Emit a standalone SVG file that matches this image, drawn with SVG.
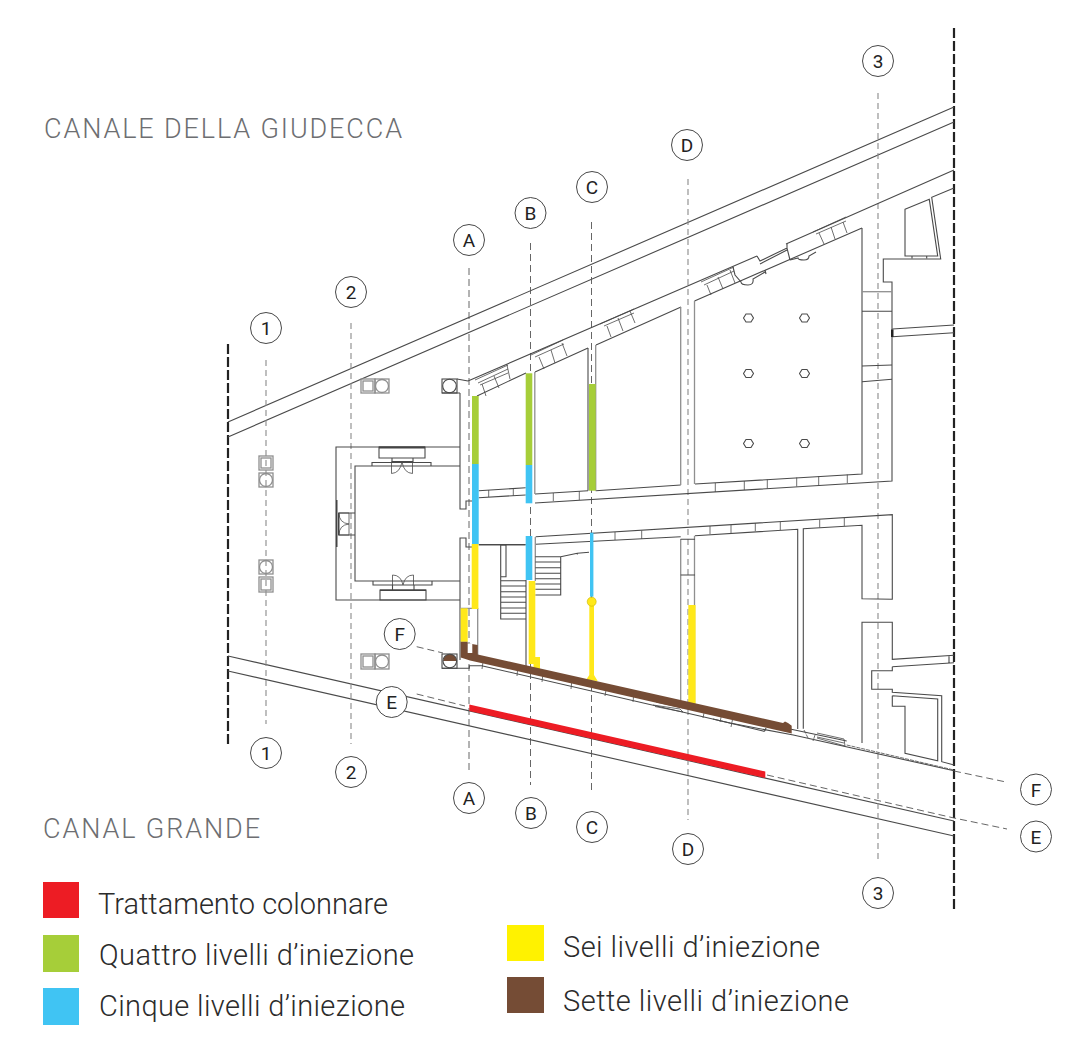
<svg xmlns="http://www.w3.org/2000/svg" width="1075" height="1058" viewBox="0 0 1075 1058">
<style>
.w{fill:none;stroke:#4a4a4a;stroke-width:1.1}
.g{fill:none;stroke:#8f8f8f;stroke-width:1.3}
.t{fill:none;stroke:#4a4a4a;stroke-width:.8}
.b{fill:none;stroke:#222;stroke-width:2.2;stroke-dasharray:10 3}
.sg{fill:none;stroke:#8a8a8a;stroke-width:1.1;stroke-dasharray:6 4}
.sd{fill:none;stroke:#555;stroke-width:.9;stroke-dasharray:7 4}
.lab circle{fill:#fff;stroke:#333;stroke-width:.9}
.lab text{font-family:"Roboto","Liberation Sans",sans-serif;font-weight:400;font-size:19px;fill:#222;text-anchor:middle}
.h{font-family:"Roboto","Liberation Sans",sans-serif;font-weight:300;font-size:27px;fill:#6d6e71}
.l{font-family:"Roboto","Liberation Sans",sans-serif;font-weight:300;font-size:29px;fill:#2b2b2b}
.red{fill:#ed1c24}.grn{fill:#a6ce39}.blu{fill:#40c4f3}.yel{fill:#ffe81a}.brn{fill:#754c35}
</style>
<rect width="1075" height="1058" fill="#fff"/>

<g id="site-limits">
<path class="b" d="M228 344V744M954 28V910"/>
<path class="w" d="M228 422L954 107M228 437L954 122M228 656L954 821M228 671L954 836"/>
</g>

<g id="connectors">
<path class="sg" d="M266 360V724M351 323V744M688 179V820M878 93V863"/>
<path class="sd" d="M469 268V770M530.500 243V785M591.500 222V790"/>
<path class="sd" d="M416.700 646.700L443 653M954 771L1006 782M416.700 694L465 706M767 775L954 818L1007 829"/>
</g>

<g id="plan-walls">
<!-- north facade -->
<path class="w" d="M468 381L757 256M786 244L954 170M477 396L526 373M535 372L588 348M596 345L681 307M694.5 301L862 228"/>
<path class="t" d="M475 380L508 365M478 383L508 369M480 385L508 373M482 384L486 396M494 376L499 388M507 365L510 379"/>
<path class="t" d="M531 355L563 340M535 357L564 344M539 357L544 369M551 350L555 363M562 343L567 356"/>
<path class="t" d="M600 324L634 309M604 326L634 313M607 326L611 337M618 318L623 331M630 311L635 323"/>
<path class="t" d="M701 282L734 267M704 285L734 271M707 285L711 295M718 277L723 289M730 270L735 283"/>
<path class="w" d="M757 256L760 261L787 248L790 260M760 264L787 250M765 270L766 274M733 267L735 275L741 282Q741 285 748 285Q754 285 753 279L765 272M787 248V244L787 244"/>
<path class="t" d="M813 232L846 217M816 234L846 221M819 233L824 244M831 227L835 239M843 222L847 233"/>
<path class="w" d="M790 260L798 258Q798 260 804 260Q809 260 809 256L816 252"/>
<!-- west wall -->
<path class="w" d="M460 393V509H466V501H472M460 660V538H466V547H472"/>
<path class="g" d="M477.7 608V655M460.7 608.3H477.7"/>
<!-- rooms row north -->
<path class="w" d="M478.7 490.7L525.7 487.7M535 494L588 490.7M595.7 490.7L680.7 485M695 484L862 474V228"/>
<path class="g" d="M694.5 301V484M680.7 307V485M534.8 372V494M595.7 345V490.7"/>
<path class="w" d="M588 348V490.7"/>
<path class="w" d="M478.7 497.7L525.7 495M535 503L892 481V282H883.3V259H940.7L931.7 197.3L954 188"/>
<path class="t" d="M488.7 490V497M513.3 488.5V496M553.3 493V501M579.3 491V500M715.3 483V492M744.3 481V490M767.3 479.5V488.5M796.7 477.5V486.5M818.7 476V485M847.3 474.5V483"/>
<path class="g" d="M862 291.7H892"/>
<path class="w" d="M862 311.3H892M862 366L892 365M862 381.7L892 379.3"/>
<path class="w" d="M905 209.3L929.3 199.3L937.7 256H905ZM892.3 329L954 325M892.3 336.7L954 332.7M912 256V258.500M926.700 256V258.500"/>
<path d="M891 329.500h2.500v7.500h-2.500z" fill="#222"/>
<!-- rooms row south -->
<path class="w" d="M535.700 536.700L892.300 514.700V599.300L862 598.700V525.300L803.300 528.700V728.700M535.700 544.300L680.700 536.700M695 535.700L797.700 529.300V729"/>
<path class="g" d="M680.700 539V704M694.500 535.700V705"/>
<path class="w" d="M680.700 539.300H695M680.700 575H695"/>
<path class="t" d="M615 532V540M641.700 530.500V539M710 526V534M731 525V533M755.300 523V531M780.300 522V530M819.700 519.500V527.500M844.300 518V526"/>
<path class="w" d="M862 743V622.300H892.300V659.300L954 655.300M892.300 666.700L954 662.700M892.300 666.700V670.700H871.700V689.300H892.300V692.300L941.700 695.700V761.700L954 765M892.300 695.700L937.700 699V760.700L905 753.300V706.300H892.300V695.700M949 656V663"/>
<path class="w" d="M526 580V668"/>
<path class="g" d="M535.300 537V581M478.700 545H525.700"/>
<path class="w" d="M478.700 544.500H525.700"/>
<!-- stairs -->
<path class="w" d="M500.700 545V619H526M500.700 580.700H526M500.700 586H526M500.700 591.700H526M500.700 597H526M500.700 602.300H526M500.700 608H526M500.700 613.300H526M500.700 545H506V576.700H500.700"/>
<path class="w" d="M535.300 556.700H560.700V595H535.300M535.300 562H560.700M535.300 567.700H560.700M535.300 573.300H560.700M535.300 578.700H560.700M535.300 584H560.700M535.300 589.300H560.700M560.700 556.700L577.300 553.300L589 552.300M577.300 553.300V554.500"/>
<!-- south facade -->
<path class="w" d="M442 668.300H469.300V665.700H481.700L730 723L793.300 735L954 770.700M790 729L846.700 741"/>
<path class="t" d="M483 662L482 669M518 665L517 676M543 673L542 682M572 679L571 689M606.700 686L605 696M634 692L633 702M705 708L703 718M722 713L720 722M733 717L731 727"/>
<path class="t" d="M653 705L680 709L683 712L655 706.500M656 702L683 708M817 733L844 739L845 746L817 738M817 737L844 743"/>
<path class="t" stroke-dasharray="4 1" d="M846.700 745L954 770M804 730L808 738M815 735L813 741"/>
<path class="w" d="M713 719L763 731Q765 732 766 728"/>
</g>

<g id="pavilion">
<path class="w" d="M460 447H336V600H460M355 513V466H460M355 535V581H460"/>
<path class="w" d="M379 447H425V458H379ZM392 458H413V461.500H392ZM372 466V462.500H431V466M380 590H426V600H380ZM392.500 585H414V590H392.500ZM373 581V585H432V581"/>
<path fill="#444" d="M379 446.500h46v2h-46zM380 589.500h46v1.500h-46z"/>
<path class="t" d="M391.500 461.500V473.500Q400 473 402 462Q404 473 412.500 473.500V461.500M392.500 585V575Q401 575 403 585M403 585Q405 575 413.500 575V585"/>
<path class="w" d="M338 513H355M338 535H355M355 513V535"/>
<path fill="#444" d="M336 500h1.500v47h-1.500zM338 513h1.500v22h-1.500z"/>
<path class="t" d="M339 513H349V535H339M339 513Q339 523 349 524Q339 525 339 535"/>
</g>

<g id="columns">
<g class="g"><rect x="361" y="379" width="14" height="14"/><rect x="363" y="381" width="10" height="10"/><rect x="375" y="379" width="14" height="14"/><circle cx="382" cy="386" r="6.500"/>
<rect x="361" y="654" width="14" height="15"/><rect x="363" y="656" width="10" height="11"/><rect x="375" y="654" width="14" height="15"/><circle cx="382" cy="661.500" r="6.500"/></g>
<g class="w"><rect x="442" y="379" width="15" height="14"/><circle cx="449.500" cy="386" r="6.800"/><path d="M457 379L468 381M442 393H460"/>
<rect x="442" y="654" width="15" height="14.300"/></g>
<path class="brn" d="M443 661a6.800 6.800 0 0 1 13.600 0z"/>
<circle class="w" cx="449.800" cy="661" r="6.800"/>
<g class="g"><rect x="259" y="456" width="14" height="14"/><rect x="261" y="458" width="10" height="10"/><rect x="259" y="473" width="14" height="14"/><circle cx="266" cy="480" r="6.500"/>
<rect x="259" y="560" width="14" height="14"/><circle cx="266" cy="567" r="6.500"/><rect x="259" y="577" width="14" height="15"/><rect x="261" y="579" width="10" height="11"/></g>
<g class="w"><path d="M743.500 318l2.500-4h5l2.500 4-2.500 4h-5zM799.500 318l2.500-4h5l2.500 4-2.500 4h-5zM743.500 373.500l2.500-4h5l2.500 4-2.500 4h-5zM799.500 373.500l2.500-4h5l2.500 4-2.500 4h-5zM743.500 443.500l2.500-4h5l2.500 4-2.500 4h-5zM799.500 443.500l2.500-4h5l2.500 4-2.500 4h-5z"/></g>
</g>

<g id="injection-zones">
<rect class="grn" x="472" y="396" width="6.700" height="68"/>
<rect class="blu" x="472" y="464" width="6.700" height="80"/>
<rect class="yel" x="471.700" y="544" width="6.700" height="65"/>
<rect class="yel" x="460.700" y="608.300" width="7" height="33.500"/>
<rect class="grn" x="525.700" y="373.300" width="6.600" height="91.700"/>
<rect class="blu" x="525.700" y="465" width="6.600" height="38.300"/>
<rect class="blu" x="525.700" y="536" width="6.600" height="44"/>
<path class="yel" d="M528.700 581H535.300V657H540V669.300L533.500 668.500V664H528.700Z"/>
<rect class="grn" x="589" y="384" width="6.700" height="106.700"/>
<rect class="blu" x="590" y="532.700" width="3.400" height="64"/>
<path class="yel" d="M589.300 606H594V675L597.700 681L586 680L589.300 675Z"/>
<circle class="yel" cx="591.700" cy="601.700" r="4.500" stroke="#c9b400" stroke-width=".6"/>
<rect class="yel" x="688.300" y="605" width="7.300" height="100"/>
<path class="brn" d="M460.700 641.700H467.700V643.300L477.700 645V654.500L783 723L785 721.500L788 723L791.700 725.700V733.500L470 660.500L460.700 657.500Z"/>
<path fill="#fff" d="M467.700 643.500h4.600v9.500h-4.600z"/>
<path class="red" d="M469.300 704.500L765.300 771.500V778L469.300 711Z"/>
</g>

<g id="label-1-top" class="lab"><circle cx="266" cy="328" r="15.500"/><text x="266" y="335">1</text></g>
<g id="label-2-top" class="lab"><circle cx="351" cy="292" r="15.500"/><text x="351" y="299">2</text></g>
<g id="label-A-top" class="lab"><circle cx="469" cy="240" r="15.500"/><text x="469" y="247">A</text></g>
<g id="label-B-top" class="lab"><circle cx="530.500" cy="213" r="15.500"/><text x="530.500" y="220">B</text></g>
<g id="label-C-top" class="lab"><circle cx="592" cy="187" r="15.500"/><text x="592" y="194">C</text></g>
<g id="label-D-top" class="lab"><circle cx="687" cy="145" r="15.500"/><text x="687" y="152">D</text></g>
<g id="label-3-top" class="lab"><circle cx="878" cy="61" r="15.500"/><text x="878" y="68">3</text></g>
<g id="label-1-bottom" class="lab"><circle cx="266" cy="753" r="15.500"/><text x="266" y="760">1</text></g>
<g id="label-2-bottom" class="lab"><circle cx="351" cy="772" r="15.500"/><text x="351" y="779">2</text></g>
<g id="label-A-bottom" class="lab"><circle cx="469" cy="798" r="15.500"/><text x="469" y="805">A</text></g>
<g id="label-B-bottom" class="lab"><circle cx="531" cy="813" r="15.500"/><text x="531" y="820">B</text></g>
<g id="label-C-bottom" class="lab"><circle cx="592" cy="827" r="15.500"/><text x="592" y="834">C</text></g>
<g id="label-D-bottom" class="lab"><circle cx="688" cy="849" r="15.500"/><text x="688" y="856">D</text></g>
<g id="label-3-bottom" class="lab"><circle cx="878" cy="893" r="15.500"/><text x="878" y="900">3</text></g>
<g id="label-F-left" class="lab"><circle cx="399.700" cy="634" r="15.500"/><text x="399.700" y="641">F</text></g>
<g id="label-E-left" class="lab"><circle cx="391.700" cy="702" r="15.500"/><text x="391.700" y="709">E</text></g>
<g id="label-F-right" class="lab"><circle cx="1036" cy="789.500" r="15.500"/><text x="1036" y="796.500">F</text></g>
<g id="label-E-right" class="lab"><circle cx="1036" cy="836.500" r="15.500"/><text x="1036" y="843.500">E</text></g>

<text class="h" x="44" y="138" textLength="358" lengthAdjust="spacing">CANALE DELLA GIUDECCA</text>
<text class="h" x="43" y="838" textLength="217" lengthAdjust="spacing">CANAL GRANDE</text>

<g id="legend">
<rect class="red" x="43" y="882" width="36" height="36"/>
<text class="l" x="98" y="914" textLength="290" lengthAdjust="spacing">Trattamento colonnare</text>
<rect class="grn" x="43" y="935" width="36" height="37"/>
<text class="l" x="99" y="965" textLength="315" lengthAdjust="spacing">Quattro livelli d’iniezione</text>
<rect class="blu" x="43" y="988" width="36" height="37"/>
<text class="l" x="99" y="1016" textLength="306" lengthAdjust="spacing">Cinque livelli d’iniezione</text>
<rect x="507" y="925" width="37" height="36" fill="#fff200"/>
<text class="l" x="563" y="957" textLength="257" lengthAdjust="spacing">Sei livelli d’iniezione</text>
<rect class="brn" x="507" y="977" width="37" height="36"/>
<text class="l" x="563" y="1011" textLength="286" lengthAdjust="spacing">Sette livelli d’iniezione</text>
</g>
</svg>
